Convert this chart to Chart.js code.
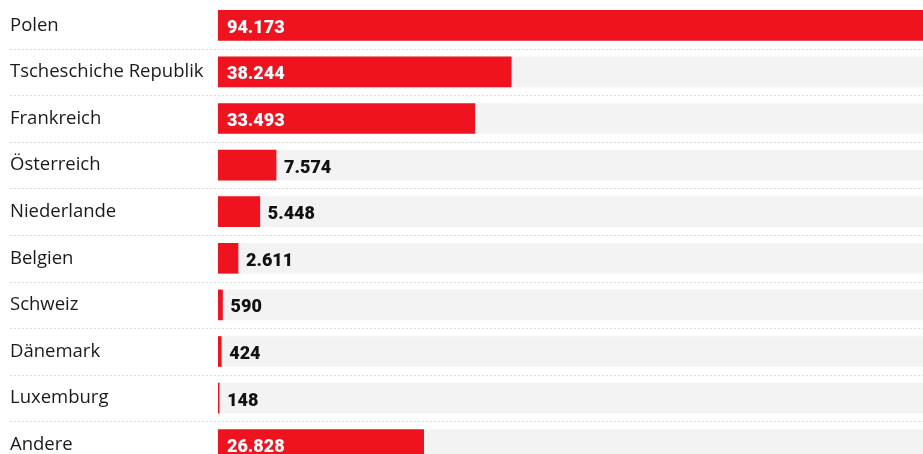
<!DOCTYPE html>
<html>
<head>
<meta charset="utf-8">
<script src="https://cdn.jsdelivr.net/npm/chart.js@4"></script>
<style>
  html, body { margin: 0; padding: 0; background: #fff; overflow: hidden; }
  #wrap { width: 940px; height: 468px; position: relative; }
</style>
</head>
<body>
<div id="wrap"><canvas id="countryChart"></canvas></div>
<script>
const countries = ["Polen", "Tscheschiche Republik", "Frankreich", "Österreich", "Niederlande", "Belgien", "Schweiz", "Dänemark", "Luxemburg", "Andere"];
const counts = [94173, 38244, 33493, 7574, 5448, 2611, 590, 424, 148, 26828];
const maxValue = 94173;
const insideLimit = 20000;

function fmt(n){
  return String(n).replace(/\B(?=(\d{3})+(?!\d))/g, ".");
}

// row labels, dotted lines between rows, value labels
const rowDeco = {
  id: "rowDeco",
  beforeDatasetsDraw(chart){
    const ctx = chart.ctx;
    const y = chart.scales.y;
    ctx.save();
    ctx.strokeStyle = "#d9d9d9";
    ctx.lineWidth = 1;
    ctx.setLineDash([2, 2]);
    const half = (y.getPixelForValue(1) - y.getPixelForValue(0)) / 2;
    for(let i = 0; i < countries.length; i++){
      const yy = Math.round(y.getPixelForValue(i) + half) + 0.5;
      ctx.beginPath();
      ctx.moveTo(10, yy);
      ctx.lineTo(chart.width, yy);
      ctx.stroke();
    }
    ctx.setLineDash([]);
    ctx.fillStyle = "#1a1a1a";
    ctx.font = "18.5px 'Open Sans'";
    ctx.textBaseline = "middle";
    ctx.textAlign = "left";
    countries.forEach((c, i) => {
      ctx.fillText(c, 10, y.getPixelForValue(i));
    });
    ctx.restore();
  },
  afterDatasetsDraw(chart){
    const ctx = chart.ctx;
    const meta = chart.getDatasetMeta(0);
    ctx.save();
    ctx.font = "900 18px Roboto";
    ctx.textBaseline = "middle";
    meta.data.forEach((bar, i) => {
      const v = counts[i];
      if(v > insideLimit){
        ctx.fillStyle = "#ffffff";
        ctx.fillText(fmt(v), bar.base + 9, bar.y + 3);
      } else {
        ctx.fillStyle = "#111111";
        ctx.fillText(fmt(v), bar.x + 8, bar.y + 3);
      }
    });
    ctx.restore();
  }
};

window.onload = function(){

  const c = document.getElementById("countryChart");

  new Chart(c, {
    type: "bar",
    data: {
      labels: countries,
      datasets: [{
        label: "Anzahl",
        data: counts,
        backgroundColor: "#ee131f",
        barThickness: 30,
        grouped: false
      },{
        label: "track",
        data: countries.map(() => maxValue),
        backgroundColor: "#f3f3f3",
        barThickness: 30,
        grouped: false
      }]
    },
    options: {
      indexAxis: "y",
      responsive: true,
      maintainAspectRatio: false,
      animation: false,
      layout: { padding: { left: 10, top: 2, right: 0, bottom: 0 } },
      plugins: {
        legend: { display: false },
        tooltip: { enabled: false }
      },
      scales: {
        x: {
          display: false,
          min: 0,
          max: maxValue
        },
        y: {
          grid: { display: false },
          border: { display: false },
          ticks: { display: false },
          afterFit(scale){ scale.width = 208; }
        }
      }
    },
    plugins: [rowDeco]
  });
}
</script>
</body>
</html>
